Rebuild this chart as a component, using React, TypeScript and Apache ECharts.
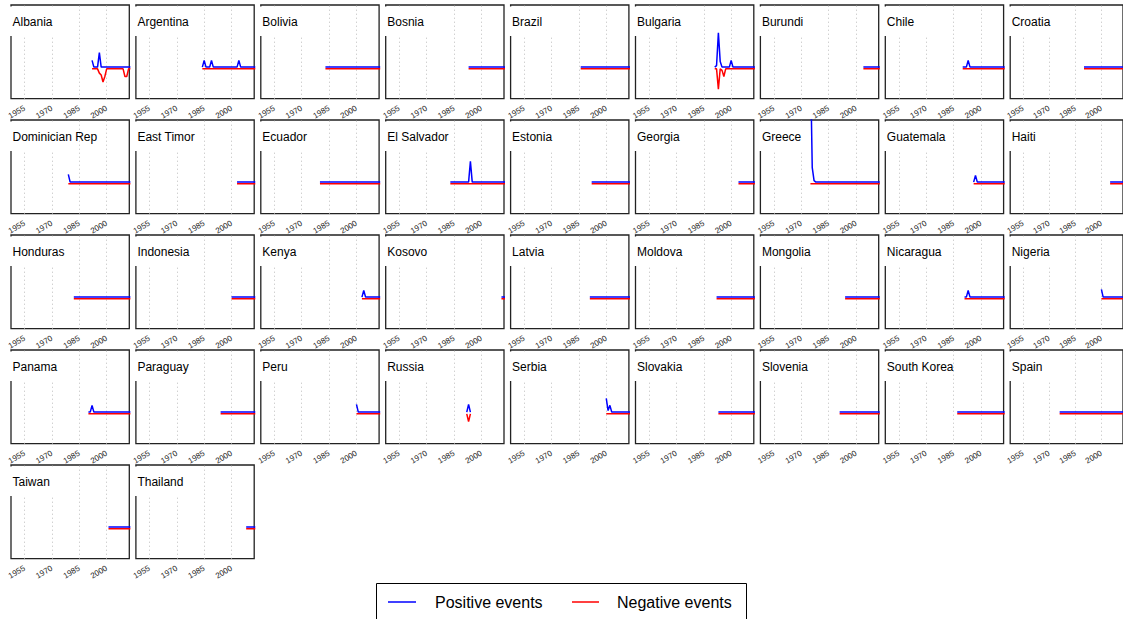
import React, { useEffect, useRef } from "react";
import * as echarts from "echarts";

// ---------------- DATA ----------------
const countries = [
  "Albania", "Argentina", "Bolivia", "Bosnia", "Brazil", "Bulgaria", "Burundi", "Chile", "Croatia",
  "Dominician Rep", "East Timor", "Ecuador", "El Salvador", "Estonia", "Georgia", "Greece", "Guatemala", "Haiti",
  "Honduras", "Indonesia", "Kenya", "Kosovo", "Latvia", "Moldova", "Mongolia", "Nicaragua", "Nigeria",
  "Panama", "Paraguay", "Peru", "Russia", "Serbia", "Slovakia", "Slovenia", "South Korea", "Spain",
  "Taiwan", "Thailand",
];

// first and last observed year per country
const startYear = [
  1992, 1984, 1983, 1993, 1986, 1991, 2004, 1990, 1990,
  1979, 2003, 1980, 1983, 1992, 2004, 1975, 1996, 2005,
  1982, 2000, 2003, 2011, 1991, 1992, 1994, 1991, 2000,
  1990, 1994, 2000, 1992, 2000, 1993, 1991, 1987, 1976,
  2001, 2008,
];
const endYear = [
  2013, 2013, 2013, 2013, 2013, 2013, 2013, 2013, 2013,
  2013, 2013, 2013, 2013, 2013, 2013, 2013, 2013, 2013,
  2013, 2013, 2013, 2013, 2013, 2013, 2013, 2013, 2013,
  2013, 2013, 2013, 1994, 2013, 2013, 2013, 2013, 2013,
  2013, 2013,
];

// non-zero positive event values [year, value]
const positiveEvents: [number, number][][] = [
  [[1992, 0.22], [1996, 0.47]],
  [[1985, 0.22], [1989, 0.22], [2004, 0.22]],
  [], [], [],
  [[1992, 0.05], [1993, 1.12], [1994, 0.18], [2000, 0.22]],
  [],
  [[1993, 0.22]],
  [],
  [[1979, 0.25]],
  [], [],
  [[1994, 0.68]],
  [], [],
  [[1975, 4.0], [1976, 0.47], [1977, 0.05]],
  [[1997, 0.22]],
  [],
  [], [],
  [[2004, 0.22]],
  [], [], [], [],
  [[1993, 0.22]],
  [[2000, 0.25]],
  [[1992, 0.22]],
  [],
  [[2000, 0.25]],
  [[1993, 0.25]],
  [[2000, 0.45], [2001, 0.05], [2002, 0.22]],
  [], [], [], [],
  [], [],
];

// non-zero negative event magnitudes [year, value]
const negativeEvents: [number, number][][] = [
  [[1996, 0.14], [1997, 0.2], [1998, 0.43], [1999, 0.25], [2010, 0.25], [2011, 0.25]],
  [], [], [], [],
  [[1993, 0.66], [1995, 0.05], [1996, 0.25]],
  [], [], [],
  [], [], [], [], [], [], [], [], [],
  [], [], [], [], [], [], [], [], [],
  [], [], [],
  [[1993, 0.25]],
  [], [], [], [], [],
  [], [],
];

const tickYears = [1955, 1970, 1985, 2000];
const legendLabels = ["Positive events", "Negative events"];

// ---------------- LAYOUT / STYLE ----------------
const COLS = 9;
const X0 = 11;
const COL_PITCH = 124.9;
const Y0 = 5;
const ROW_PITCH = 115;
const PW = 118.3;
const PH = 93.7;
const X_MIN = 1947.6;
const X_MAX = 2012.4;
const Y_MIN = -1;
const Y_MAX = 2.05;
const LINE_SEP = 0.028; // visual separation of the two baselines
const BLUE = "#0000FF";
const RED = "#FF0000";
const FONT = "Liberation Sans, Arial, sans-serif";

function buildSeriesData(i: number, events: [number, number][], sign: number) {
  const map = new Map<number, number>();
  events.forEach(([y, v]) => map.set(y, v));
  const out: [number, number][] = [];
  for (let y = startYear[i]; y <= endYear[i]; y++) {
    const v = map.get(y) ?? 0;
    out.push([y, sign * v + sign * LINE_SEP]);
  }
  return out;
}

export default function App() {
  const ref = useRef<HTMLDivElement>(null);

  useEffect(() => {
    if (!ref.current) return;
    const chart = echarts.init(ref.current, undefined, { renderer: "svg" });

    const grids: any[] = [];
    const xAxes: any[] = [];
    const yAxes: any[] = [];
    const series: any[] = [];
    const graphics: any[] = [];

    countries.forEach((name, i) => {
      const col = i % COLS;
      const row = Math.floor(i / COLS);
      const left = X0 + col * COL_PITCH;
      const top = Y0 + row * ROW_PITCH;
      grids.push({
        left,
        top,
        width: PW,
        height: PH,
        show: true,
        borderColor: "#222",
        borderWidth: 1.3,
        backgroundColor: "transparent",
        containLabel: false,
      });
      xAxes.push({
        gridIndex: i,
        type: "value",
        min: X_MIN,
        max: X_MAX,
        axisLine: { show: false, onZero: false },
        axisTick: { show: false },
        axisLabel: {
          customValues: tickYears,
          rotate: 30,
          fontSize: 8,
          color: "#222",
          margin: 9,
          fontFamily: FONT,
          formatter: (v: number) => String(Math.round(v)),
        },
        splitLine: { show: false },
      });
      yAxes.push({
        gridIndex: i,
        type: "value",
        min: Y_MIN,
        max: Y_MAX,
        axisLine: { show: false },
        axisTick: { show: false },
        axisLabel: { show: false },
        splitLine: { show: false },
      });
      series.push({
        name: legendLabels[1],
        type: "line",
        xAxisIndex: i,
        yAxisIndex: i,
        data: buildSeriesData(i, negativeEvents[i], -1),
        showSymbol: false,
        symbol: "none",
        lineStyle: { color: RED, width: 1.5 },
        itemStyle: { color: RED },
        clip: true,
        silent: true,
        z: 3,
        markLine: {
          silent: true,
          z: 0.5,
          symbol: "none",
          label: { show: false },
          lineStyle: { type: [1, 3], color: "#bdbdbd", width: 1 },
          emphasis: { disabled: true },
          data: tickYears.map((v) => ({ xAxis: v })),
        },
      });
      series.push({
        name: legendLabels[0],
        type: "line",
        xAxisIndex: i,
        yAxisIndex: i,
        data: buildSeriesData(i, positiveEvents[i], 1),
        showSymbol: false,
        symbol: "none",
        lineStyle: { color: BLUE, width: 1.5 },
        itemStyle: { color: BLUE },
        clip: true,
        silent: true,
        z: 4,
      });
      graphics.push({
        type: "rect",
        shape: { x: left - 2, y: top + 1.5, width: 57, height: 29.5 },
        style: { fill: "#fff" },
        z: 1,
        silent: true,
      });
      graphics.push({
        type: "text",
        x: left + 1.5,
        y: top + 17,
        style: {
          text: name,
          fontSize: 12,
          fontFamily: FONT,
          fill: "#000",
          verticalAlign: "middle",
        },
        z: 51,
        silent: true,
      });
    });

    // legend box
    const legY = 602;
    graphics.push({
      type: "rect",
      shape: { x: 376.5, y: 583.5, width: 370, height: 60 },
      style: { fill: "#fff", stroke: "#000", lineWidth: 1 },
      z: 50,
      silent: true,
    });
    graphics.push({
      type: "line",
      shape: { x1: 388, y1: legY, x2: 416, y2: legY },
      style: { stroke: BLUE, lineWidth: 1.5 },
      z: 51,
    });
    graphics.push({
      type: "text",
      x: 435,
      y: legY,
      style: { text: legendLabels[0], fontSize: 16, fontFamily: FONT, fill: "#000", verticalAlign: "middle" },
      z: 51,
    });
    graphics.push({
      type: "line",
      shape: { x1: 572, y1: legY, x2: 599, y2: legY },
      style: { stroke: RED, lineWidth: 1.5 },
      z: 51,
    });
    graphics.push({
      type: "text",
      x: 617,
      y: legY,
      style: { text: legendLabels[1], fontSize: 16, fontFamily: FONT, fill: "#000", verticalAlign: "middle" },
      z: 51,
    });

    chart.setOption({
      animation: false,
      backgroundColor: "#fff",
      textStyle: { fontFamily: FONT },
      grid: grids,
      xAxis: xAxes,
      yAxis: yAxes,
      series,
      graphic: graphics,
    });

    return () => chart.dispose();
  }, []);

  return (
    <div
      ref={ref}
      style={{ position: "fixed", left: 0, top: 0, width: 1123, height: 619, background: "#fff" }}
    />
  );
}
